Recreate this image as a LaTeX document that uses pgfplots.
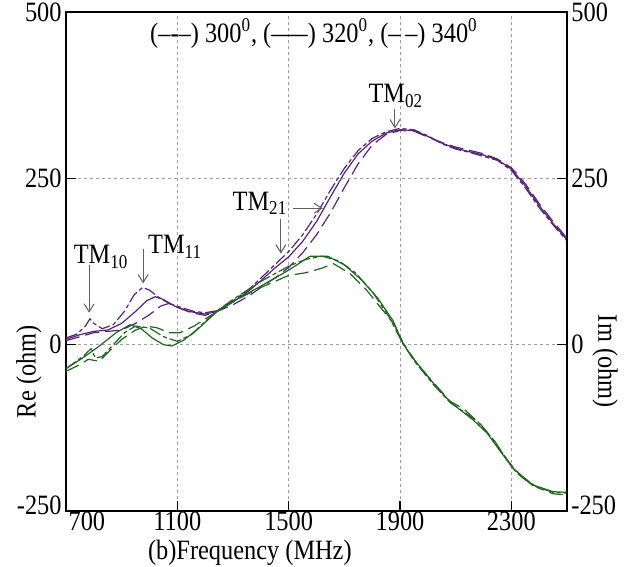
\documentclass[border=0pt]{standalone}
\usepackage{fontspec}
\setmainfont[FakeStretch=0.87]{Liberation Serif}
\usepackage{pgfplots}
\pgfplotsset{compat=1.18}
\usetikzlibrary{arrows.meta}
\definecolor{rePurple}{RGB}{85,38,115}
\definecolor{imGreen}{RGB}{35,100,35}
\definecolor{annGray}{RGB}{95,95,95}
\tikzset{
  s300/.style={dash pattern=on 6pt off 1.5pt on 2pt off 1.5pt},
  s320/.style={solid},
  s340/.style={dash pattern=on 7pt off 3pt},
  ann/.style={annGray, line width=0.5pt, -{Straight Barb[length=4pt,width=5pt]}},
}
\begin{document}
\fontsize{14}{16}\selectfont
\begin{tikzpicture}
\useasboundingbox (-33pt,-27.5pt) rectangle (284.5pt,255.5pt);
\begin{axis}[
    name=ax,
    scale only axis, width=250.5pt, height=249.5pt,
    at={(0,0)}, anchor=south west,
    xmin=700, xmax=2500, ymin=-250, ymax=500,
    xtick={1100,1500,1900,2300},
    ytick={-250,0,250,500},
    yticklabels={\raisebox{6pt}{-250},0,250,\raisebox{-3pt}{500}},
    extra x ticks={775}, extra x tick labels={700},
    extra x tick style={major tick length=0pt, grid=none},
    xtick pos=bottom,
    tick align=inside, major tick length=5pt,
    grid=major, grid style={gray!75, line width=0.4pt, dash pattern=on 1.5pt off 1.5pt},
    axis line style={line width=0.6pt},
    tick style={line width=0.6pt, black},
    ticklabel style={font=\fontsize{14}{16}\selectfont},
    xticklabel style={inner sep=1pt, yshift=1pt},
    yticklabel style={inner sep=2pt},
    /pgf/number format/assume math mode=true,
    /pgf/number format/1000 sep={},
    every axis plot/.append style={line width=0.6pt},
    clip=false,
]
%% Re, 300 deg
\addplot[rePurple, s300] coordinates {
  (700,10)(740,16)(770,28)(786,39)(800,32)(830,24)(870,30)(910,50)(945,75)
  (975,86)(1000,82)(1030,72)(1070,62)(1120,55)(1160,50)(1200,48)(1243,51)
  (1300,66)(1360,84)(1400,100)(1450,120)(1500,140)(1550,165)(1600,196)
  (1650,232)(1700,265)(1750,292)(1800,310)(1850,320)(1900,325)(1950,323)
  (2000,314)(2050,302)(2100,294)(2150,289)(2200,283)(2250,277)(2300,262)
  (2350,236)(2400,206)(2450,180)(2500,156)
};
%% Re, 320 deg
\addplot[rePurple, s320] coordinates {
  (700,8)(750,15)(800,20)(850,22)(900,32)(950,50)(990,66)(1020,72)(1050,68)
  (1090,58)(1140,50)(1200,46)(1243,50)(1300,64)(1360,82)(1400,96)(1450,115)
  (1500,132)(1550,155)(1600,185)(1650,222)(1700,258)(1750,287)(1800,306)
  (1850,318)(1900,323)(1950,322)(2000,313)(2050,303)(2100,295)(2150,290)
  (2200,285)(2250,278)(2300,264)(2350,239)(2400,209)(2450,182)(2500,158)
};
%% Re, 340 deg
\addplot[rePurple, s340] coordinates {
  (700,6)(750,12)(800,18)(850,20)(900,22)(950,32)(1000,45)(1040,58)(1070,62)
  (1100,56)(1150,48)(1200,44)(1243,50)(1300,60)(1360,74)(1400,86)(1450,100)
  (1500,116)(1550,138)(1600,165)(1650,198)(1700,236)(1750,272)(1800,300)
  (1850,316)(1900,322)(1950,321)(2000,312)(2050,304)(2100,297)(2150,292)
  (2200,287)(2250,279)(2300,266)(2350,242)(2400,212)(2450,185)(2500,160)
};
%% Im, 300 deg
\addplot[imGreen, s300] coordinates {
  (700,-36)(760,-18)(790,-6)(805,-20)(830,-18)(870,0)(910,18)(950,28)
  (1000,25)(1050,12)(1100,5)(1150,15)(1200,35)(1243,51)(1300,68)(1400,95)
  (1500,118)(1560,128)(1620,133)(1680,126)(1740,108)(1800,80)(1860,42)
  (1910,2)(1950,-24)(2020,-60)(2080,-87)(2130,-101)(2180,-116)(2230,-140)
  (2280,-170)(2320,-193)(2378,-212)(2450,-222)(2500,-223)
};
%% Im, 320 deg
\addplot[imGreen, s320] coordinates {
  (700,-36)(760,-20)(820,-2)(880,18)(930,30)(970,24)(1010,10)(1050,0)
  (1080,-2)(1120,6)(1170,22)(1243,50)(1300,65)(1400,88)(1500,112)(1577,133)
  (1640,133)(1700,120)(1760,98)(1820,70)(1875,36)(1910,2)(1950,-22)
  (2020,-58)(2080,-86)(2116,-98)(2160,-112)(2213,-133)(2260,-160)(2306,-186)
  (2378,-211)(2450,-221)(2500,-222)
};
%% Im, 340 deg
\addplot[imGreen, s340] coordinates {
  (700,-40)(750,-30)(780,-22)(820,-25)(850,-12)(900,8)(950,22)(990,28)
  (1030,25)(1070,18)(1110,18)(1160,28)(1243,50)(1300,65)(1400,86)(1500,104)
  (1560,108)(1620,115)(1660,122)(1720,107)(1780,82)(1830,56)(1880,30)
  (1912,2)(1960,-28)(2020,-57)(2080,-85)(2130,-97)(2190,-120)(2240,-145)
  (2290,-176)(2340,-200)(2400,-216)(2450,-224)(2500,-226)
};
%% annotations
\node at (axis cs:826,132) {TM\textsubscript{10}};
\draw[ann] (axis cs:783,119) -- (axis cs:783,48);
\node at (axis cs:1092,147) {TM\textsubscript{11}};
\draw[ann] (axis cs:977,144) -- (axis cs:977,92);
\node at (axis cs:1397,212) {TM\textsubscript{21}};
\draw[ann] (axis cs:1516,205) -- (axis cs:1623,205);
\draw[ann] (axis cs:1472,189) -- (axis cs:1472,137);
\node at (axis cs:1885,374) {TM\textsubscript{02}};
\draw[ann] (axis cs:1882,354) -- (axis cs:1882,325);
\node at (axis cs:1591,468) {(\textendash-\textendash) 300\textsuperscript{0}, (\textemdash\textendash) 320\textsuperscript{0}, (\textendash\,\textendash) 340\textsuperscript{0}};
\node[rotate=90] at (rel axis cs:-0.074,0.279) {Re (ohm)};
\node at (rel axis cs:0.367,-0.084) {(b)Frequency (MHz)};
\end{axis}
\begin{axis}[
    scale only axis, width=250.5pt, height=249.5pt,
    at={(0,0)}, anchor=south west,
    xmin=700, xmax=2500, ymin=-250, ymax=500,
    hide x axis,
    axis y line*=right,
    axis line style={line width=0.6pt},
    ytick={-250,0,250,500},
    yticklabels={\raisebox{6pt}{-250},0,250,\raisebox{-3pt}{500}},
    major tick length=0pt,
    ticklabel style={font=\fontsize{14}{16}\selectfont},
    yticklabel style={inner sep=2pt},
    /pgf/number format/assume math mode=true,
    clip=false,
]
\node[rotate=-90] at (rel axis cs:1.076,0.30) {Im (ohm)};
\end{axis}
\end{tikzpicture}
\end{document}
